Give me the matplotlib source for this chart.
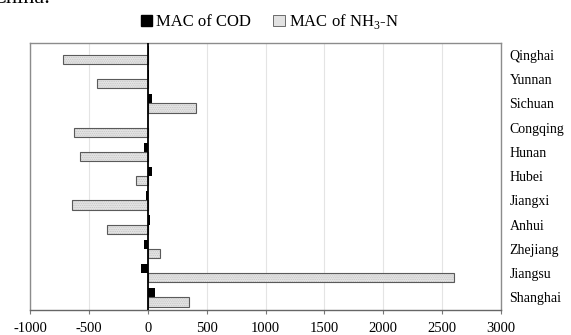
from matplotlib import pyplot as plt
from matplotlib.patches import Patch
import numpy as np

plt.rcParams['font.family'] = ['Liberation Serif', 'DejaVu Serif']
plt.rcParams['mathtext.fontset'] = 'custom'
plt.rcParams['mathtext.rm'] = 'Liberation Serif'
plt.rcParams['hatch.linewidth'] = 0.3

provinces = ['Qinghai', 'Yunnan', 'Sichuan', 'Congqing', 'Hunan', 'Hubei',
             'Jiangxi', 'Anhui', 'Zhejiang', 'Jiangsu', 'Shanghai']
mac_cod = [10, 10, 35, 5, -30, 35, -15, 15, -35, -55, 60]
mac_nh3 = [-718, -430, 413, -627, -576, -102, -641, -345, 102, 2600, 347]
xticks = [-1000, -500, 0, 500, 1000, 1500, 2000, 2500, 3000]

fig = plt.figure(figsize=(5.71, 3.35), dpi=100)
ax = fig.add_axes([0.0525, 0.076, 0.825, 0.796])

y = np.arange(len(provinces))
h = 0.38

ax.barh(y - 0.19, mac_cod, height=h, color='black', zorder=3)
ax.barh(y + 0.19, mac_nh3, height=h, color='#e2e2e2', hatch='.........',
        edgecolor='#b8b8b8', linewidth=0, zorder=3)
ax.barh(y + 0.19, mac_nh3, height=h, fill=False, edgecolor='#5a5a5a',
        linewidth=0.8, zorder=4)

ax.axvline(0, color='black', lw=1.3, zorder=5)

ax.set_xlim(-1000, 3000)
ax.set_ylim(len(provinces) - 0.5, -0.5)
ax.set_xticks(xticks)
ax.set_xticklabels([str(v) for v in xticks], fontsize=10.5)
ax.grid(axis='x', color='#e4e4e4', lw=0.8, zorder=0)

ax.set_yticks(y)
ax.set_yticklabels(provinces, fontsize=10)
ax.yaxis.tick_right()
ax.tick_params(axis='y', length=0, pad=6)
ax.tick_params(axis='x', length=3, color='#777777', pad=6)

for s in ax.spines.values():
    s.set_color('#8c8c8c')
    s.set_linewidth(1.0)
ax.spines['bottom'].set_color('#666666')

handles = [Patch(facecolor='black', edgecolor='black'),
           Patch(facecolor='#e2e2e2', edgecolor='#555555', linewidth=0.6)]
fig.legend(handles, ['MAC of COD', 'MAC of NH$_3$-N'], loc='center',
           bbox_to_anchor=(0.472, 0.935), ncol=2, frameon=False, fontsize=12,
           handlelength=0.7, handleheight=0.7, handletextpad=0.25,
           columnspacing=1.3)

fig.text(-0.015, 1.005, 'China.', fontsize=16, ha='left', va='center')

fig.savefig('out.png', dpi=100)
